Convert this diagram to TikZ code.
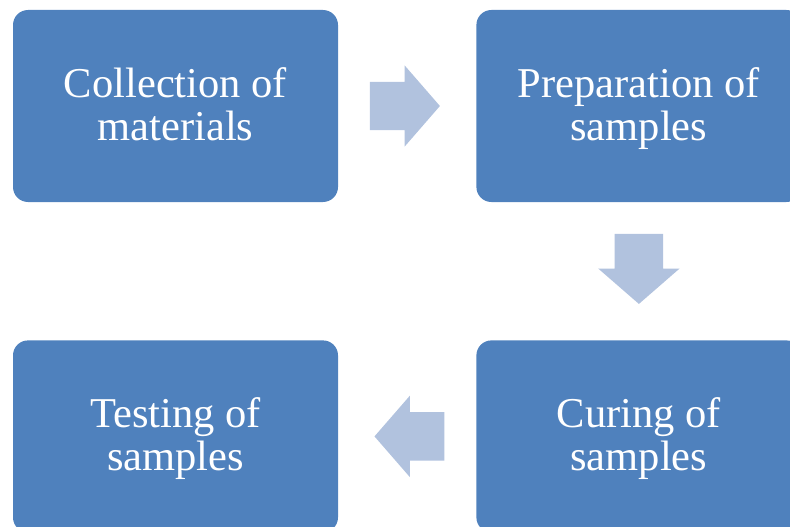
\documentclass[tikz,border=0pt]{standalone}
\usepackage{fontspec}
\setmainfont{Liberation Serif}
\usetikzlibrary{positioning,shapes.arrows,calc}
\definecolor{boxblue}{RGB}{79,129,189}
\definecolor{arrowblue}{RGB}{177,194,222}

\begin{document}
\begin{tikzpicture}[
  x=1pt, y=-1pt, node distance=138pt,
  stage/.style={fill=boxblue,rounded corners=15pt,minimum width=325pt,minimum height=192pt,
    inner sep=0pt,align=center,text=white,font=\fontsize{42.5}{43}\selectfont,
    text height=78pt,text depth=10pt},
  flow/.style={single arrow,fill=arrowblue,anchor=tip,minimum height=70pt,
    minimum width=81pt,single arrow head extend=16.5pt,single arrow tip angle=98},
  flowh/.style={flow,inner xsep=0pt,inner ysep=24pt},
  flowv/.style={flow,inner xsep=24pt,inner ysep=0pt}
]
\useasboundingbox (0,0) rectangle (790,527);
\clip (0,0) rectangle (790,527);
\node[stage] (collect) at (175.5,106) {Collection of\\materials};
\node[stage,right=of collect] (prep) {Preparation of\\samples};
\node[stage,below=of prep] (cure) {Curing of\\samples};
\node[stage,left=of cure] (test) {Testing of\\samples};
% block arrows between the stages
\node[flowh] (f1) at ($(collect.east)!0.739!(prep.west)$) {};
\node[flowv,shape border rotate=270] (f2) at ($(prep.south)!0.739!(cure.north)$) {};
\node[flowh,shape border rotate=180] (f3) at ($(cure.west)!0.739!(test.east)$) {};
\end{tikzpicture}
\end{document}
